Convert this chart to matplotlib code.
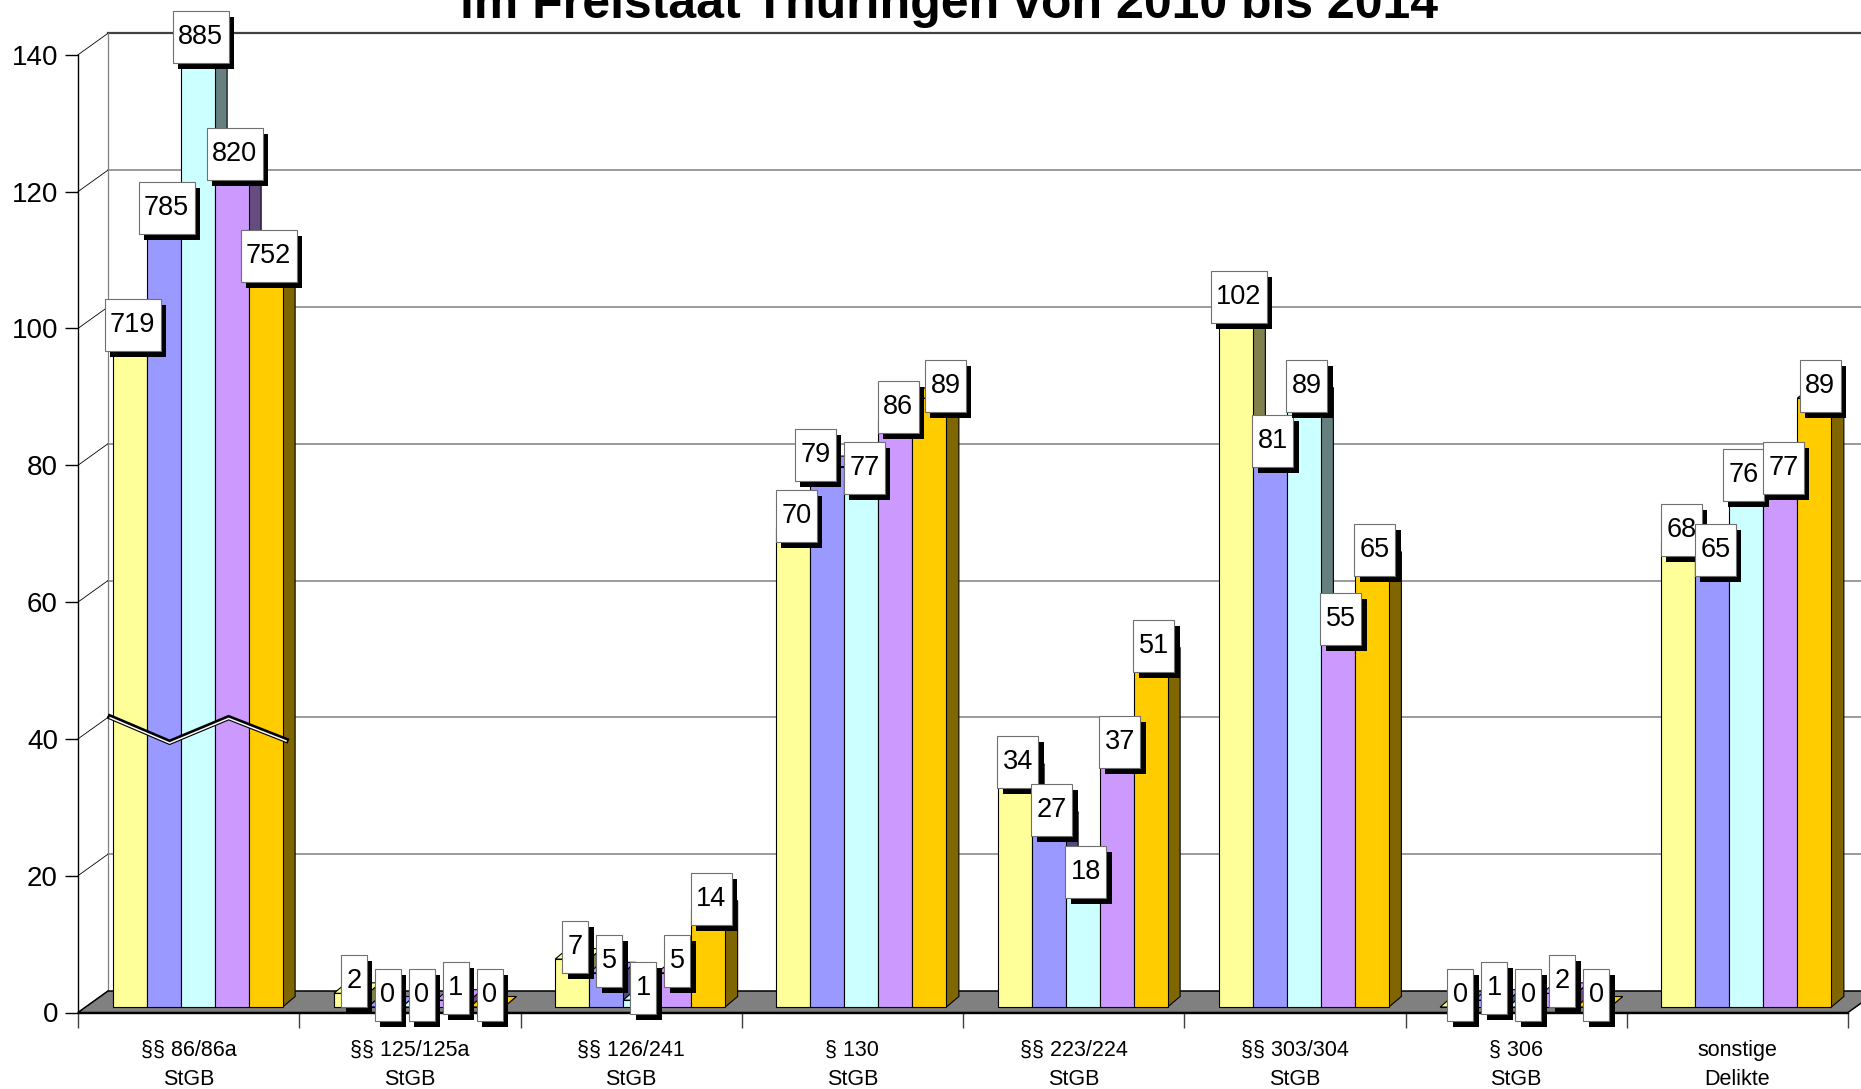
import matplotlib
matplotlib.use('Agg')
import matplotlib.pyplot as plt
from matplotlib.patches import Polygon, Rectangle
import numpy as np

plt.rcParams['font.family'] = ['Liberation Sans', 'DejaVu Sans']

# ===== DATA =====
title = "im Freistaat Thüringen von 2010 bis 2014"
categories = ["§§ 86/86a\nStGB", "§§ 125/125a\nStGB", "§§ 126/241\nStGB", "§ 130\nStGB",
              "§§ 223/224\nStGB", "§§ 303/304\nStGB", "§ 306\nStGB", "sonstige\nDelikte"]
years = ["2010", "2011", "2012", "2013", "2014"]
v2010 = [719, 2, 7, 70, 34, 102, 0, 68]
v2011 = [785, 0, 5, 79, 27, 81, 1, 65]
v2012 = [885, 0, 1, 77, 18, 89, 0, 76]
v2013 = [820, 1, 5, 86, 37, 55, 2, 77]
v2014 = [752, 0, 14, 89, 51, 65, 0, 89]
# first group sits on a broken axis: bar heights as drawn in the chart
broken_heights = [98, 115, 140, 123, 108]
break_marks = [42.4, 38.7, 42.3, 39.0]
yticks = [0, 20, 40, 60, 80, 100, 120, 140]

series = [v2010, v2011, v2012, v2013, v2014]
colors = ['#FFFF99', '#9999FF', '#CCFFFF', '#CC99FF', '#FFCC00']
side_colors = ['#80804C', '#4C4C80', '#668080', '#664C80', '#806600']
# a few labels were dragged sideways in the original (pixels)
label_nudge = {(1, 3): -15, (4, 3): 13, (2, 7): -6, (4, 7): 3}

# ===== LAYOUT (pixels of the 1861x1089 picture) =====
W, H = 1861, 1089
fig = plt.figure(figsize=(W / 100, H / 100), dpi=100)
x0px, x1px, y0px, ytop = 78, 1848, 1012.5, 54.8
ax = fig.add_axes([x0px / W, 1 - y0px / H, (x1px - x0px) / W, (y0px - ytop) / H])
ax.set_xlim(-0.5, 7.5)
ax.set_ylim(0, 140)
ax.patch.set_visible(False)
sx = (x1px - x0px) / 8.0
sy = (y0px - ytop) / 140.0
px = lambda p: p / sx
py = lambda p: p / sy

wdx, wdy = px(30), py(21.5)      # back wall offset
bw = px(34)                       # bar width
base = py(5.5)                    # bars stand a bit behind the front edge
shift = px(9)
bdx, bdy = px(12.5), py(10.5)     # bar depth

# back wall grid + side wall lines
for v in yticks:
    if v > 0:
        ax.plot([-0.5 + wdx, 8.3], [v + wdy, v + wdy],
                color='#404040' if v == 140 else '#808080',
                lw=1.6 if v == 140 else 1.1, zorder=1, clip_on=False)
    ax.plot([-0.5, -0.5 + wdx], [v, v + wdy], color='black', lw=0.6, zorder=1, clip_on=False)
ax.plot([-0.5 + wdx, -0.5 + wdx], [wdy, 140 + wdy], color='#808080', lw=0.9, zorder=1, clip_on=False)

# floor
ax.add_patch(Polygon([(-0.5, 0), (7.5, 0), (7.5 + wdx, wdy), (-0.5 + wdx, wdy)],
                     closed=True, fc='#808080', ec='black', lw=1.1, zorder=2, clip_on=False))

x = np.arange(len(categories))
for s in range(len(series)):
    heights = [broken_heights[s]] + series[s][1:]
    xs = x + shift + (s - 2) * bw
    bars = ax.bar(xs, heights, bw, bottom=base, color=colors[s], edgecolor='black',
                  lw=0.8, zorder=4, clip_on=False)
    for i, r in enumerate(bars.patches):
        l, b, w, h = r.get_x(), r.get_y(), r.get_width(), r.get_height()
        rt = l + w
        ax.add_patch(Polygon([(rt, b), (rt + bdx, b + bdy), (rt + bdx, b + h + bdy), (rt, b + h)],
                             closed=True, fc=side_colors[s], ec='black', lw=0.8, zorder=3, clip_on=False))
        ax.add_patch(Polygon([(l, b + h), (l + bdx, b + h + bdy), (rt + bdx, b + h + bdy), (rt, b + h)],
                             closed=True, fc=colors[s], ec='black', lw=0.8, zorder=3, clip_on=False))
        # value label box with shadow
        lab = str(series[s][i])
        boxw, boxh = px(15 * len(lab) + 11), py(52)
        cx = l + w / 2 + px(3 + label_nudge.get((s, i), 0))
        cy = b + h + py(12)
        z = 10 + s * 3
        ax.add_patch(Rectangle((cx - boxw / 2 + px(5.5), cy - boxh / 2 - py(6)), boxw, boxh,
                               fc='black', ec='none', zorder=z, clip_on=False))
        ax.add_patch(Rectangle((cx - boxw / 2, cy - boxh / 2), boxw, boxh,
                               fc='white', ec='#707070', lw=0.8, zorder=z + 1, clip_on=False))
        ax.text(cx, cy, lab, ha='center', va='center', fontsize=19.5, zorder=z + 2, clip_on=False)

# axis break mark across the first group
g_left = shift - 2.5 * bw
bx = [g_left - px(2.5), g_left + 1.5 * bw + px(6), g_left + 3.5 * bw - px(3), g_left + 5 * bw + px(3.5)]
by = [base + m for m in break_marks]
ax.plot(bx, by, color='black', lw=3.8, zorder=8, clip_on=False, solid_joinstyle='miter')
ax.plot(bx, [v - py(0.8) for v in by], color='white', lw=1.1, zorder=9, clip_on=False, solid_joinstyle='miter')

# axes
for sp in ['top', 'right']:
    ax.spines[sp].set_visible(False)
ax.spines['left'].set_linewidth(1.0)
ax.spines['bottom'].set_linewidth(1.0)
ax.spines['left'].set_zorder(2.5)
ax.spines['bottom'].set_zorder(2.5)
ax.set_yticks(yticks)
ax.set_yticklabels([str(v) for v in yticks])
ax.tick_params(axis='y', length=9.4, width=1, pad=5, labelsize=20, direction='out')
ax.set_xticks(np.arange(-0.5, 8, 1))
ax.set_xticklabels([])
ax.set_xticks(x, minor=True)
ax.set_xticklabels(categories, minor=True, linespacing=1.55)
ax.tick_params(axis='x', which='major', length=10.8, width=1, direction='out', color='#404040')
ax.tick_params(axis='x', which='minor', length=0, pad=19.5, labelsize=15.5)

fig.text(949 / W, 1 - 17.5 / H, title, ha='center', va='baseline', fontsize=36, fontweight='bold')

plt.savefig('out.png', dpi=100)
plt.close()
